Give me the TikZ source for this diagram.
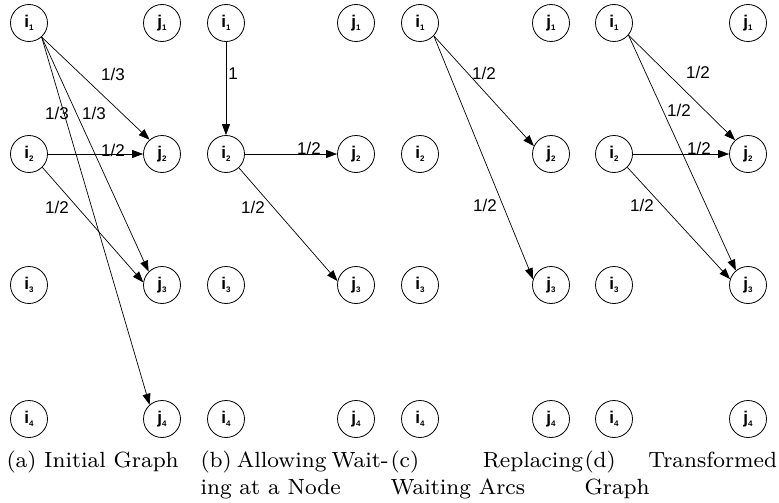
\documentclass[tikz,border=0pt]{standalone}
\usepackage{fontspec}
\newfontfamily\labelfont{Liberation Sans}
\usetikzlibrary{arrows.meta}

% vertex label: letter with a small lowered index
\newcommand\vlab[2]{#1\raisebox{-3pt}{\fontsize{8}{8}\selectfont #2}}
% caption line spread over a given width
\newcommand\spreadline[2]{\makebox[#1][s]{#2}}

\tikzset{
  vert/.style={circle, draw, line width=0.8pt, minimum size=37pt, inner sep=0pt,
               font=\labelfont\bfseries\fontsize{17}{17}\selectfont},
  arc/.style={-{Triangle[length=11pt,width=8pt]}, line width=0.7pt},
  wt/.style={inner sep=0pt, font=\labelfont\fontsize{17}{17}\selectfont},
  capt/.style={scale=2.75, transform shape, anchor=base west, inner sep=0pt,
               align=left, font=\fontsize{8}{9.8}\selectfont},
}

\begin{document}
\begin{tikzpicture}[x=1pt,y=1pt]
\useasboundingbox (0,-503) rectangle (779,0);

% four panels of bipartite vertices
\foreach \p/\xi/\xj in {a/29/162, b/226/356, c/420/551, d/614/748} {
  \foreach \r/\y in {1/23, 2/154, 3/285, 4/419} {
    \node[vert] (\p i\r) at (\xi,-\y) {\vlab{i}{\r}};
    \node[vert] (\p j\r) at (\xj,-\y) {\vlab{j}{\r}};
  }
}

% (a) initial graph
\draw[arc] (ai1.-48) -- (aj2.131);
\draw[arc] (ai1.-48) -- (aj3.135);
\draw[arc] (ai1.-48) -- (aj4.131);
\draw[arc] (ai2.east) -- (aj2.west);
\draw[arc] (ai2.-45) -- (aj3.172);
\node[wt] (wa1) at (113,-74) {1/3};
\node[wt] (wa2) at (57,-113) {1/3};
\node[wt] (wa3) at (94,-113) {1/3};
\node[wt] (wa4) at (113,-150) {1/2};
\node[wt] (wa5) at (57,-207) {1/2};

% (b) waiting at a node
\draw[arc] (bi1.south) -- (bi2.north);
\draw[arc] (bi2.east) -- (bj2.west);
\draw[arc] (bi2.-47) -- (bj3.168);
\node[wt] (wb1) at (233,-74) {1};
\node[wt] (wb2) at (309,-148) {1/2};
\node[wt] (wb3) at (253,-207) {1/2};

% (c) waiting arcs replaced
\draw[arc] (ci1.-43) -- (cj2.155);
\draw[arc] (ci1.-43) -- (cj3.162);
\node[wt] (wc1) at (484,-73) {1/2};
\node[wt] (wc2) at (485,-205) {1/2};

% (d) transformed graph
\draw[arc] (di1.-40) -- (dj2.133);
\draw[arc] (di1.-40) -- (dj3.130);
\draw[arc] (di2.east) -- (dj2.west);
\draw[arc] (di2.-45) -- (dj3.162);
\node[wt] (wd1) at (698,-72) {1/2};
\node[wt] (wd2) at (679,-110) {1/2};
\node[wt] (wd3) at (699,-148) {1/2};
\node[wt] (wd4) at (642,-205) {1/2};

% sub-captions (two-line ones sit on the baseline of their second line)
\node[capt] (capa) at (6,-467) {(a) Initial Graph};
\node[capt] (capb) at (200,-494) {\spreadline{68pt}{(b) Allowing Wait-}\\ing at a Node};
\node[capt] (capc) at (390,-494) {\spreadline{70pt}{(c) Replacing}\\Waiting Arcs};
\node[capt] (capd) at (584,-494) {\spreadline{70pt}{(d) Transformed}\\Graph};
\end{tikzpicture}
\end{document}
